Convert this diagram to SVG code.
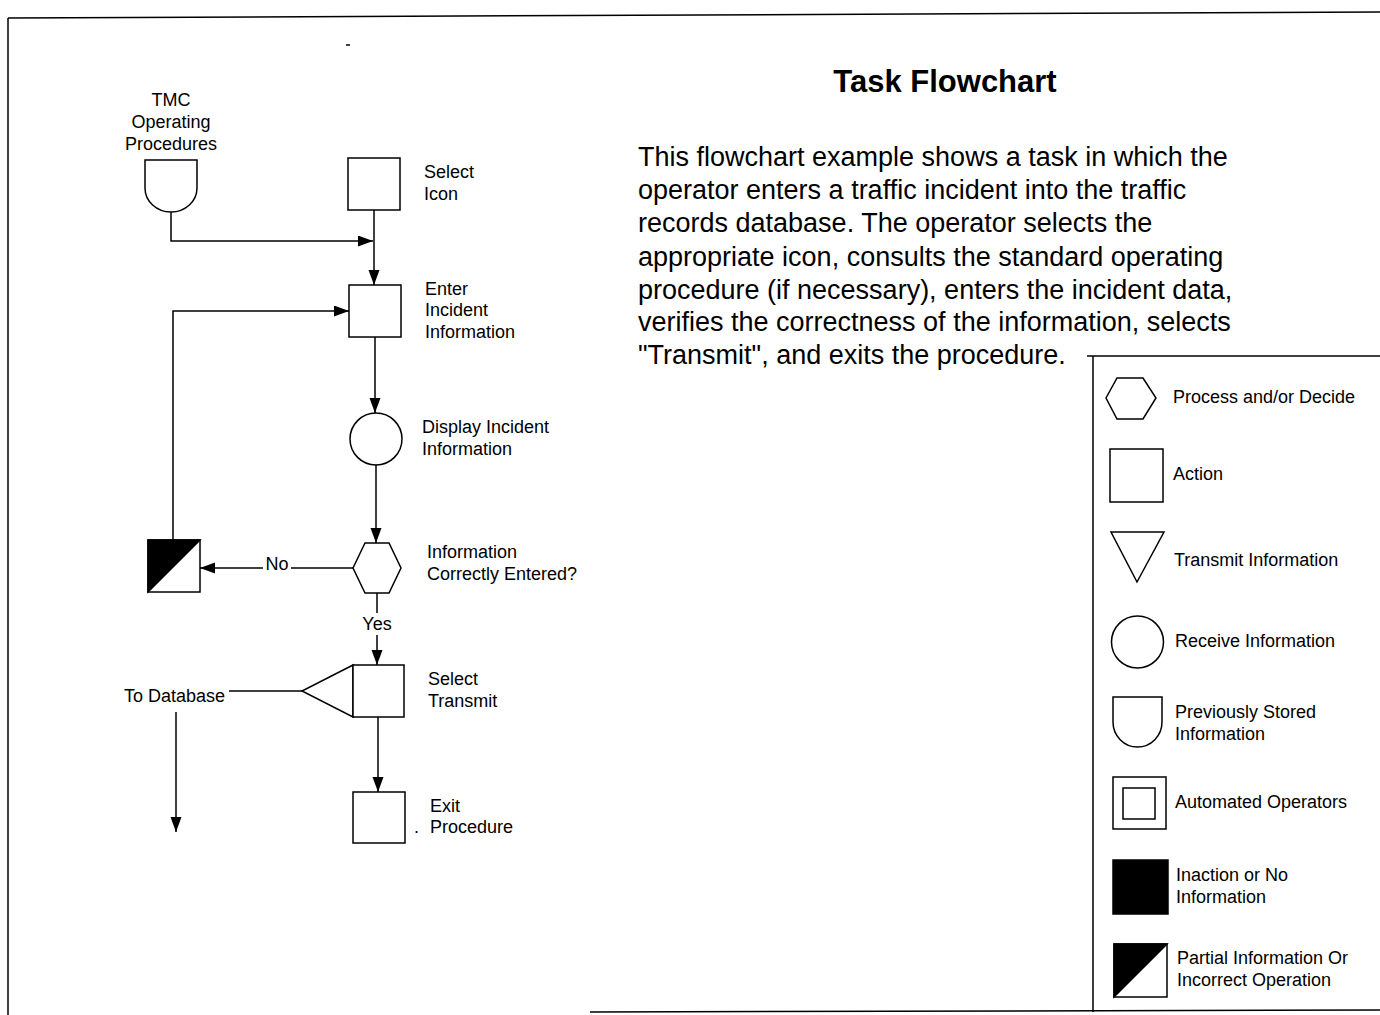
<svg xmlns="http://www.w3.org/2000/svg" width="1380" height="1015" viewBox="0 0 1380 1015">
<style>
.s{fill:#fff;stroke:#000;stroke-width:1.5}
.k{fill:#000;stroke:#000;stroke-width:1.5}
.l{fill:none;stroke:#000;stroke-width:1.5}
.c{fill:none;stroke:#000;stroke-width:1.5}
text{font-family:"Liberation Sans",Arial,sans-serif;fill:#000}
.t{font-size:18px}
.p{font-size:27px}
.h{font-size:31px;font-weight:bold}
</style>
<defs>
<marker id="ar" markerUnits="userSpaceOnUse" markerWidth="16" markerHeight="12" refX="15" refY="5.5" orient="auto">
<path d="M0,0 L15,5.5 L0,11 Z" fill="#000"/>
</marker>
</defs>
<rect width="1380" height="1015" fill="#fff"/>
<g id="frame" class="l">
<path d="M8,18 L1380,12"/>
<path d="M8,18 V1015"/>
<path d="M590,1012 L1380,1010"/>
<path d="M346,45 H350"/>
</g>
<g id="title">
<text class="h" x="945" y="92" text-anchor="middle">Task Flowchart</text>
</g>
<g id="description" class="p">
<text x="638" y="166">This flowchart example shows a task in which the</text>
<text x="638" y="199">operator enters a traffic incident into the traffic</text>
<text x="638" y="232">records database. The operator selects the</text>
<text x="638" y="266">appropriate icon, consults the standard operating</text>
<text x="638" y="299">procedure (if necessary), enters the incident data,</text>
<text x="638" y="331">verifies the correctness of the information, selects</text>
<text x="638" y="364">"Transmit", and exits the procedure.</text>
</g>
<g id="connectors">
<path class="c" d="M171,212 V241 H373" marker-end="url(#ar)"/>
<path class="c" d="M374,210 V285" marker-end="url(#ar)"/>
<path class="c" d="M173,540 V311 H349" marker-end="url(#ar)"/>
<path class="c" d="M375,337 V413" marker-end="url(#ar)"/>
<path class="c" d="M376,465 V543" marker-end="url(#ar)"/>
<path class="c" d="M353,568 H291"/>
<path class="c" d="M263,568 H200" marker-end="url(#ar)"/>
<path class="c" d="M377,593 V613"/>
<path class="c" d="M377,635 V665" marker-end="url(#ar)"/>
<path class="c" d="M378,717 V792" marker-end="url(#ar)"/>
<path class="c" d="M302,691 H229"/>
<path class="c" d="M176,712 V832" marker-end="url(#ar)"/>
<text class="t" x="277" y="570" text-anchor="middle">No</text>
<text class="t" x="377" y="630" text-anchor="middle">Yes</text>
<text class="t" x="124" y="702">To Database</text>
</g>
<g id="tmc">
<path class="s" d="M145,160 H197 V188 A26,24 0 0 1 145,188 Z"/>
<text class="t" x="171" y="106" text-anchor="middle">TMC</text>
<text class="t" x="171" y="128" text-anchor="middle">Operating</text>
<text class="t" x="171" y="150" text-anchor="middle">Procedures</text>
</g>
<g id="select-icon">
<rect class="s" x="348" y="158" width="52" height="52"/>
<text class="t" x="424" y="178">Select</text>
<text class="t" x="424" y="200">Icon</text>
</g>
<g id="enter-incident">
<rect class="s" x="349" y="285" width="52" height="52"/>
<text class="t" x="425" y="295">Enter</text>
<text class="t" x="425" y="316">Incident</text>
<text class="t" x="425" y="338">Information</text>
</g>
<g id="display-incident">
<circle class="s" cx="376" cy="439" r="26"/>
<text class="t" x="422" y="433">Display Incident</text>
<text class="t" x="422" y="455">Information</text>
</g>
<g id="correct-decision">
<path class="s" d="M353,568 L365,543 H389 L401,568 L389,593 H365 Z"/>
<text class="t" x="427" y="558">Information</text>
<text class="t" x="427" y="580">Correctly Entered?</text>
</g>
<g id="partial-node">
<rect class="s" x="148" y="540" width="52" height="52"/>
<path class="k" d="M148,540 H200 L148,592 Z"/>
</g>
<g id="select-transmit">
<path class="s" d="M353,665 L302,691 L353,717 Z"/>
<rect class="s" x="353" y="665" width="51" height="52"/>
<text class="t" x="428" y="685">Select</text>
<text class="t" x="428" y="707">Transmit</text>
</g>
<g id="exit-procedure">
<rect class="s" x="353" y="792" width="52" height="51"/>
<text class="t" x="430" y="812">Exit</text>
<text class="t" x="414" y="833">.</text>
<text class="t" x="430" y="833">Procedure</text>
</g>
<g id="legend">
<path class="l" d="M1087,356 H1380 M1093,356 V1012"/>
<path class="s" d="M1106,398 L1117,378 H1143 L1156,398 L1143,419 H1117 Z"/>
<text class="t" x="1173" y="403">Process and/or Decide</text>
<rect class="s" x="1110" y="449" width="53" height="53"/>
<text class="t" x="1173" y="480">Action</text>
<path class="s" d="M1111,532 H1164 L1137,582 Z"/>
<text class="t" x="1174" y="566">Transmit Information</text>
<circle class="s" cx="1137.5" cy="642" r="26"/>
<text class="t" x="1175" y="647">Receive Information</text>
<path class="s" d="M1113,697 H1162 V722 A24.5,25 0 0 1 1113,722 Z"/>
<text class="t" x="1175" y="718">Previously Stored</text>
<text class="t" x="1175" y="740">Information</text>
<rect class="s" x="1113" y="777" width="53" height="52"/>
<rect class="s" x="1123" y="788" width="32" height="31"/>
<text class="t" x="1175" y="808">Automated Operators</text>
<rect class="k" x="1113" y="860" width="55" height="54"/>
<text class="t" x="1176" y="881">Inaction or No</text>
<text class="t" x="1176" y="903">Information</text>
<rect class="s" x="1114" y="944" width="53" height="53"/>
<path class="k" d="M1114,944 H1167 L1114,997 Z"/>
<text class="t" x="1177" y="964">Partial Information Or</text>
<text class="t" x="1177" y="986">Incorrect Operation</text>
</g>
</svg>
